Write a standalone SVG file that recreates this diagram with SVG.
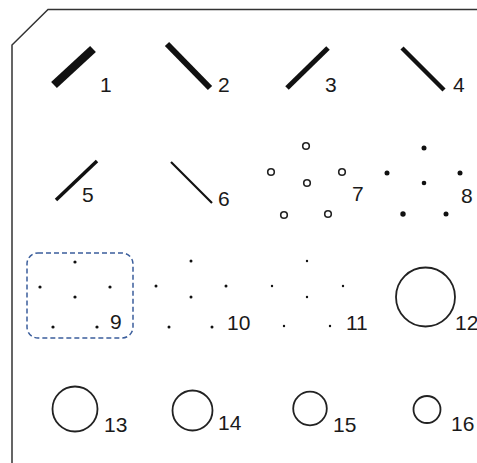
<svg xmlns="http://www.w3.org/2000/svg" width="477" height="463" viewBox="0 0 477 463">
<style>
.lbl{font-family:"Liberation Sans",Arial,sans-serif;font-size:21px;fill:#1a1a1a}
.bar{stroke:#111;fill:none}
.oc{fill:none;stroke:#222;stroke-width:1.6}
.fd{fill:#111}
.big{fill:none;stroke:#222;stroke-width:1.8}
</style>
<rect width="477" height="463" fill="#fff"/>
<path d="M477,9.5 L48,9.5 L12,45 L12,463" fill="none" stroke="#333" stroke-width="1.5"/>
<g id="n1"><line class="bar" x1="54" y1="85" x2="93" y2="49" stroke-width="8.5"/><text class="lbl" x="100" y="92">1</text></g>
<g id="n2"><line class="bar" x1="167" y1="44" x2="210" y2="88" stroke-width="6"/><text class="lbl" x="218" y="92">2</text></g>
<g id="n3"><line class="bar" x1="287" y1="88" x2="328" y2="48" stroke-width="5"/><text class="lbl" x="325" y="92">3</text></g>
<g id="n4"><line class="bar" x1="402" y1="48" x2="444" y2="90" stroke-width="4.5"/><text class="lbl" x="453" y="92">4</text></g>
<g id="n5"><line class="bar" x1="56" y1="200" x2="97" y2="161" stroke-width="3.5"/><text class="lbl" x="82" y="202">5</text></g>
<g id="n6"><line class="bar" x1="171" y1="162" x2="212" y2="203" stroke-width="2.2"/><text class="lbl" x="218" y="206">6</text></g>
<g id="n7">
<circle class="oc" cx="306" cy="146" r="3.3"/><circle class="oc" cx="271" cy="172" r="3.3"/><circle class="oc" cx="342" cy="172" r="3.3"/><circle class="oc" cx="307" cy="183" r="3.3"/><circle class="oc" cx="284" cy="215" r="3.3"/><circle class="oc" cx="328" cy="214" r="3.3"/>
<text class="lbl" x="352" y="201">7</text></g>
<g id="n8">
<circle class="fd" cx="424" cy="148" r="2.5"/><circle class="fd" cx="387" cy="173" r="2.5"/><circle class="fd" cx="460" cy="173" r="2.5"/><circle class="fd" cx="424" cy="183" r="2.3"/><circle class="fd" cx="403" cy="214" r="2.7"/><circle class="fd" cx="446" cy="214" r="2.5"/>
<text class="lbl" x="461" y="203">8</text></g>
<g id="n9">
<rect x="27" y="253" width="106" height="85" rx="11" fill="none" stroke="#3b5e9c" stroke-width="1.5" stroke-dasharray="5,3"/>
<circle class="fd" cx="75" cy="262" r="1.6"/><circle class="fd" cx="40" cy="287" r="1.6"/><circle class="fd" cx="110" cy="287" r="1.6"/><circle class="fd" cx="75" cy="297" r="1.6"/><circle class="fd" cx="53" cy="327" r="1.6"/><circle class="fd" cx="97" cy="327" r="1.6"/>
<text class="lbl" x="110" y="329">9</text></g>
<g id="n10">
<circle class="fd" cx="191" cy="261" r="1.5"/><circle class="fd" cx="156" cy="286" r="1.5"/><circle class="fd" cx="226" cy="286" r="1.5"/><circle class="fd" cx="191" cy="297" r="1.5"/><circle class="fd" cx="169" cy="327" r="1.5"/><circle class="fd" cx="212" cy="327" r="1.5"/>
<text class="lbl" x="227" y="330">10</text></g>
<g id="n11">
<circle class="fd" cx="307" cy="261" r="1.2"/><circle class="fd" cx="272" cy="286" r="1.2"/><circle class="fd" cx="343" cy="286" r="1.2"/><circle class="fd" cx="307" cy="297" r="1.2"/><circle class="fd" cx="284" cy="326" r="1.2"/><circle class="fd" cx="330" cy="326" r="1.2"/>
<text class="lbl" x="346" y="330">11</text></g>
<g id="n12"><circle class="big" cx="425.5" cy="297" r="29.5"/><text class="lbl" x="455" y="330">12</text></g>
<g id="n13"><circle class="big" cx="75" cy="409" r="22.5"/><text class="lbl" x="104" y="432">13</text></g>
<g id="n14"><circle class="big" cx="192.5" cy="410.5" r="20"/><text class="lbl" x="218" y="430">14</text></g>
<g id="n15"><circle class="big" cx="310" cy="408.5" r="16.8"/><text class="lbl" x="333" y="432">15</text></g>
<g id="n16"><circle class="big" cx="427" cy="409.5" r="13.5"/><text class="lbl" x="451" y="431">16</text></g>
<g id="connectors"/>
</svg>
